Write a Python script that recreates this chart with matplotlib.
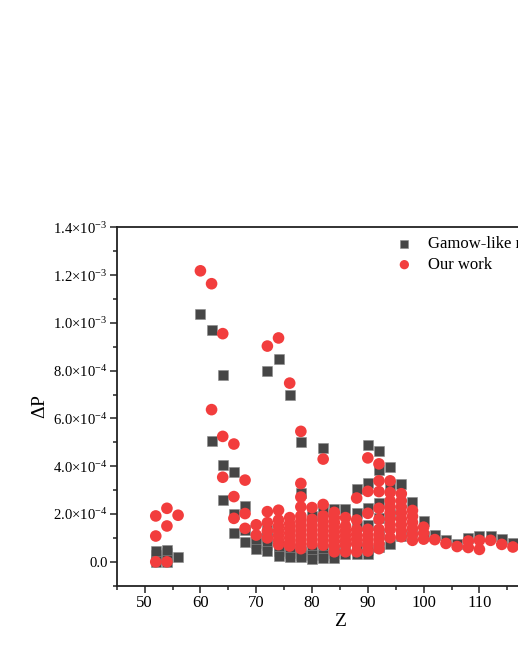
import numpy as np
import matplotlib
matplotlib.use('Agg')
import matplotlib.pyplot as plt
from matplotlib.ticker import FuncFormatter, MultipleLocator

plt.rcParams['font.family'] = ['Liberation Serif', 'DejaVu Serif']
plt.rcParams['mathtext.fontset'] = 'custom'
plt.rcParams['mathtext.rm'] = 'Liberation Serif'
plt.rcParams['mathtext.it'] = 'Liberation Serif:italic'

######## Data (values in units of 1e-4) ########
# Gamow-like model
gamow = {
    52: [0.0, 0.12, 0.3, 0.45],
    54: [0.0, 0.2, 0.35, 0.5],
    56: [0.21],
    60: [10.39],
    62: [9.7, 5.04],
    64: [7.82, 4.05, 2.59],
    66: [3.74, 1.99, 1.22],
    68: [2.35, 1.35, 0.84],
    70: [1.0, 0.8, 0.55],
    72: [7.98, 1.35, 1.0, 0.7, 0.45],
    74: [8.5, 0.65, 0.45, 0.25],
    76: [6.97, 0.55, 0.35, 0.2],
    78: [5.03, 2.9, 0.45, 0.3, 0.2],
    80: [1.9, 0.5, 0.3, 0.12],
    82: [4.77, 2.13, 0.5, 0.3, 0.17],
    84: [2.2, 0.5, 0.35, 0.17],
    86: [2.22, 0.6, 0.31],
    88: [3.04, 2.03, 1.5, 0.6, 0.31],
    90: [4.89, 3.29, 2.27, 1.55, 0.5, 0.31],
    92: [4.65, 3.85, 2.45, 1.85, 1.15, 0.6],
    94: [3.95, 3.18, 2.0, 0.75],
    96: [3.25, 1.08],
    98: [2.5, 1.25],
    100: [1.7, 1.1],
    102: [1.12],
    104: [0.92],
    106: [0.75],
    108: [1.0],
    110: [1.09],
    112: [1.09],
    114: [0.97],
    116: [0.8],
}

# Our work
ours = {
    52: [1.92, 1.08, 0.0],
    54: [2.24, 1.50, 0.0],
    56: [1.95],
    60: [12.18],
    62: [11.64, 6.37],
    64: [9.55, 5.25, 3.54],
    66: [4.93, 2.73, 1.82],
    68: [3.42, 2.02, 1.40],
    70: [1.55, 1.12],
    72: [9.03, 2.1, 1.64, 1.29, 1.0],
    74: [9.37, 2.16, 1.75, 1.5, 1.3, 1.1, 0.9, 0.72],
    76: [7.48, 1.85, 1.6, 1.4, 1.2, 1.0, 0.8, 0.66],
    78: [5.46, 3.28, 2.71, 2.3, 1.92, 1.7, 1.5, 1.3, 1.1, 0.9, 0.72, 0.55],
    80: [2.27, 1.78, 1.55, 1.35, 1.15, 0.95, 0.75],
    82: [4.3, 2.4, 1.92, 1.7, 1.5, 1.3, 1.1, 0.9, 0.7],
    84: [2.07, 1.85, 1.65, 1.45, 1.25, 1.05, 0.85, 0.65, 0.42],
    86: [1.85, 1.5, 1.3, 1.1, 0.9, 0.7, 0.42],
    88: [2.67, 1.75, 1.35, 1.15, 0.95, 0.75, 0.42],
    90: [4.35, 2.95, 2.03, 1.36, 1.1, 0.9, 0.7, 0.45],
    92: [4.1, 3.39, 2.94, 2.24, 1.78, 1.36, 1.15, 0.95, 0.75, 0.55],
    94: [3.39, 2.9, 2.55, 2.3, 2.05, 1.8, 1.55, 1.35, 1.01],
    96: [2.85, 2.55, 2.3, 2.05, 1.8, 1.55, 1.3, 1.05],
    98: [2.15, 1.9, 1.65, 1.4, 1.15, 0.9],
    100: [1.45, 1.2, 0.95],
    102: [0.93],
    104: [0.77],
    106: [0.64],
    108: [0.87, 0.6],
    110: [0.9, 0.52],
    112: [0.9],
    114: [0.73],
    116: [0.62],
}

def flatten(d):
    zs, ps = [], []
    for z, vals in d.items():
        for v in vals:
            zs.append(z)
            ps.append(v * 1e-4)
    return np.array(zs), np.array(ps)

zg, pg = flatten(gamow)
zo, po = flatten(ours)

######## Tick label format ########
def sci_fmt(v, pos):
    if abs(v) < 1e-12:
        return '0.0'
    exp = int(np.floor(np.log10(abs(v))))
    mant = v / 10**exp
    return r'$%.1f{\times}10^{%d}$' % (mant, exp)

######## Plot ########
fig = plt.figure(figsize=(5.18, 6.70), dpi=100)
ax = fig.add_axes([0.2253, 0.1258, 0.8618, 0.5349])

ax.scatter(zg, pg, marker='s', s=46, color='#464646', edgecolors='#8a8a8a',
           linewidths=0.4, label='Gamow-like model', zorder=2)
ax.scatter(zo, po, marker='o', s=70, color='#f23d3d', edgecolors='none',
           label='Our work', zorder=3)

ax.set_xlim(45, 125)
ax.set_ylim(-1e-4, 1.4e-3)
ax.xaxis.set_major_locator(MultipleLocator(10))
ax.xaxis.set_minor_locator(MultipleLocator(5))
ax.yaxis.set_major_locator(MultipleLocator(2e-4))
ax.yaxis.set_minor_locator(MultipleLocator(1e-4))
ax.yaxis.set_major_formatter(FuncFormatter(sci_fmt))

ax.tick_params(which='both', direction='out', width=1.1, color='#222222')
ax.tick_params(axis='y', labelsize=10.6, pad=1.5)
ax.tick_params(axis='x', labelsize=12, pad=2)
ax.tick_params(which='major', length=5)
ax.tick_params(which='minor', length=3)
for sp in ax.spines.values():
    sp.set_linewidth(1.3)
    sp.set_color('#222222')

ax.set_xlabel('Z', fontsize=14, labelpad=1)
ax.set_ylabel(r'$\Delta$P', fontsize=14, labelpad=3)

leg = ax.legend(loc='upper left', bbox_to_anchor=(0.7645, 0.6477), bbox_transform=fig.transFigure,
                frameon=False, fontsize=12, handlelength=1.0, handletextpad=0.92,
                labelspacing=0.3, borderpad=0, borderaxespad=0, markerscale=0.8)

plt.savefig('out.png', dpi=100)
